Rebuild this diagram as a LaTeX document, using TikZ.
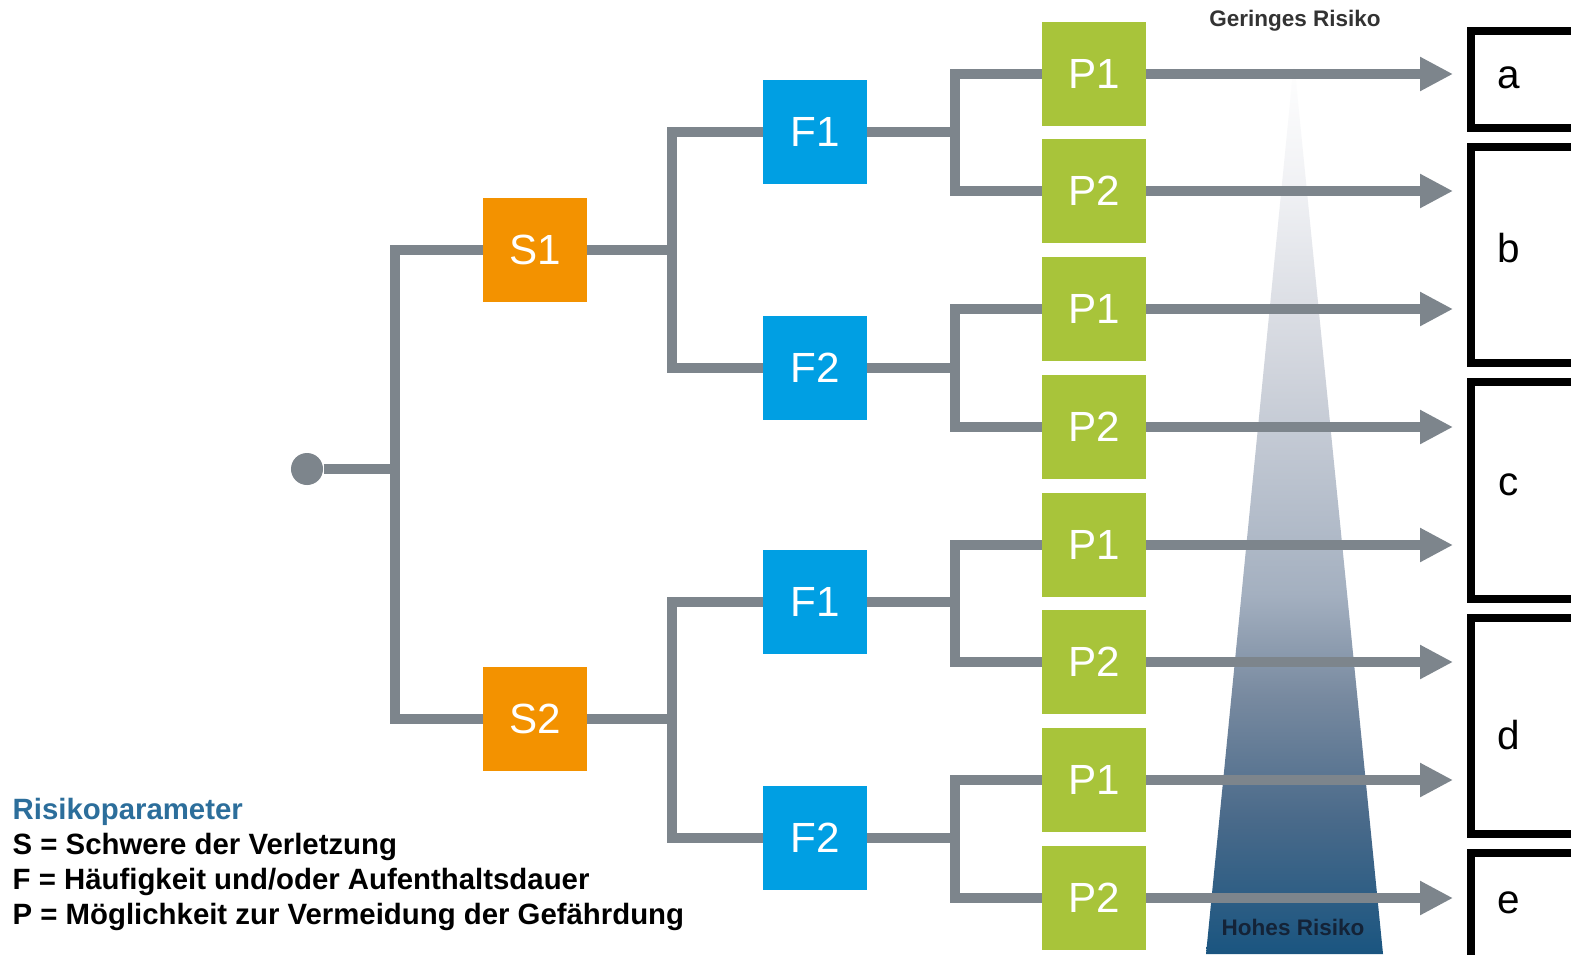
\documentclass[tikz,border=0pt]{standalone}
\usepackage{fontspec}
\setmainfont{Liberation Sans}
\usetikzlibrary{arrows.meta}
\definecolor{sorange}{HTML}{F39200}
\definecolor{fblue}{HTML}{009FE3}
\definecolor{pgreen}{HTML}{A8C43A}
\definecolor{linegray}{HTML}{7D858C}
\definecolor{legblue}{HTML}{2C6E9B}
\pgfdeclareverticalshading{riskshade}{100bp}{
  rgb(0bp)=(0.102,0.333,0.502); rgb(25bp)=(0.102,0.333,0.502);
  rgb(32.6bp)=(0.290,0.416,0.541); rgb(39.5bp)=(0.471,0.541,0.627);
  rgb(45.2bp)=(0.643,0.690,0.753); rgb(57.7bp)=(0.816,0.831,0.863);
  rgb(67.9bp)=(0.941,0.945,0.957); rgb(75bp)=(1,1,1); rgb(100bp)=(1,1,1)}
\tikzset{
  box/.style={minimum size=1.03cm, inner sep=0pt, text=white, font=\fontsize{12}{12}\selectfont},
  sbox/.style={box, fill=sorange},
  fbox/.style={box, fill=fblue},
  pbox/.style={box, fill=pgreen},
  conn/.style={line width=0.1cm, color=linegray, line join=miter},
  arr/.style={conn, -{Triangle[length=0.33cm, width=0.32cm]}},
  cat/.style={line width=0.08cm, draw=black},
  legend/.style={anchor=west, inner xsep=0pt, font=\bfseries\fontsize{8.35}{8.35}\selectfont}
}

\begin{document}
\begin{tikzpicture}[x=0.01cm, y=-0.01cm]
		%%%%% START %%%%%
		\clip (0, 0) rectangle (1571, 954);
		\fill[white] (0, 0) rectangle (1571, 954);
		
		% risk wedge
		\shade[shading=riskshade] (1294, 62) -- (1383, 954) -- (1206, 954) -- cycle;
		\node[font=\bfseries\fontsize{6.4}{6.4}\selectfont, text=black!80] (low) at (1295, 21) {Geringes Risiko};
		\node[font=\bfseries\fontsize{6.4}{6.4}\selectfont, text={rgb,255:red,20;green,35;blue,55}] (high) at (1293, 927) {Hohes Risiko};
		
		% tree
		\node[circle, fill=linegray, minimum size=0.32cm, inner sep=0pt] (root) at (307, 469) {};
		\coordinate (j0) at (395, 469);
		\node[sbox] (s1) at (535, 250) {S1};
		\node[sbox] (s2) at (535, 719) {S2};
		\coordinate (j1) at (672, 250);
		\coordinate (j2) at (672, 719);
		\node[fbox] (f1a) at (815, 132) {F1};
		\node[fbox] (f2a) at (815, 368) {F2};
		\node[fbox] (f1b) at (815, 602) {F1};
		\node[fbox] (f2b) at (815, 838) {F2};
		\coordinate (k1) at (955, 132);
		\coordinate (k2) at (955, 368);
		\coordinate (k3) at (955, 602);
		\coordinate (k4) at (955, 838);
		\node[pbox] (p1) at (1094, 74) {P1};
		\node[pbox] (p2) at (1094, 191) {P2};
		\node[pbox] (p3) at (1094, 309) {P1};
		\node[pbox] (p4) at (1094, 427) {P2};
		\node[pbox] (p5) at (1094, 545) {P1};
		\node[pbox] (p6) at (1094, 662) {P2};
		\node[pbox] (p7) at (1094, 780) {P1};
		\node[pbox] (p8) at (1094, 898) {P2};
		
		\draw[conn] (root) -- (j0);
		\draw[conn] (s1) -| (j0) |- (s2);
		\draw[conn] (s1) -- (j1);
		\draw[conn] (s2) -- (j2);
		\draw[conn] (f1a) -| (j1) |- (f2a);
		\draw[conn] (f1b) -| (j2) |- (f2b);
		\draw[conn] (f1a) -- (k1);
		\draw[conn] (f2a) -- (k2);
		\draw[conn] (f1b) -- (k3);
		\draw[conn] (f2b) -- (k4);
		\draw[conn] (p1) -| (k1) |- (p2);
		\draw[conn] (p3) -| (k2) |- (p4);
		\draw[conn] (p5) -| (k3) |- (p6);
		\draw[conn] (p7) -| (k4) |- (p8);
		
		\foreach \p in {p1,p2,p3,p4,p5,p6,p7,p8}
			\draw[arr] (\p) -- (\p -| 1453, 0);
		
		% categories
		\draw[cat] (1471, 31) rectangle (1620, 128);
		\draw[cat] (1471, 147) rectangle (1620, 363);
		\draw[cat] (1471, 382) rectangle (1620, 599);
		\draw[cat] (1471, 618) rectangle (1620, 834);
		\draw[cat] (1471, 853) rectangle (1620, 990);
		\foreach \c/\y in {a/78, b/248, c/485, d/735, e/903}
			\node[font=\fontsize{11.5}{11.5}\selectfont] (cat\c) at (1509, \y) {\c};
		
		% legend
		\node[legend, text=legblue] (leg0) at (12, 812) {Risikoparameter};
		\node[legend] (leg1) at (12, 847) {S = Schwere der Verletzung};
		\node[legend] (leg2) at (12, 882) {F = Häufigkeit und/oder Aufenthaltsdauer};
		\node[legend] (leg3) at (12, 917) {P = Möglichkeit zur Vermeidung der Gefährdung};
		%%%%% END %%%%%
	\end{tikzpicture}
\end{document}
